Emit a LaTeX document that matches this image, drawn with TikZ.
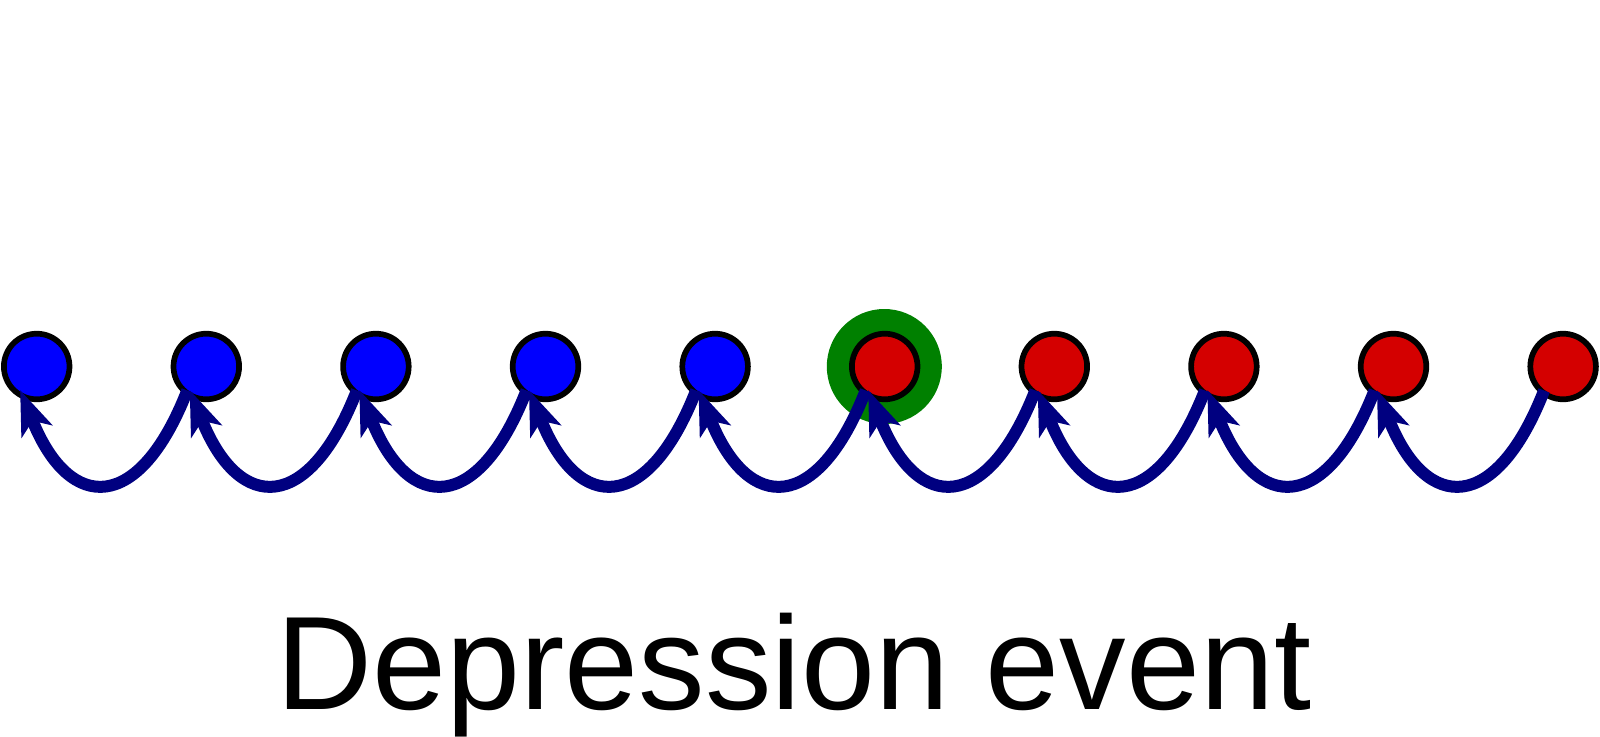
\documentclass[tikz,border=0pt]{standalone}
\usepackage{fontspec}
\setmainfont{Liberation Sans}
\usetikzlibrary{arrows.meta}
\definecolor{nblue}{RGB}{0,0,255}
\definecolor{nred}{RGB}{212,0,0}
\definecolor{ngreen}{RGB}{0,128,0}
\definecolor{navy}{RGB}{0,0,128}
\tikzset{
  state/.style={circle, draw=black, line width=5.7pt, minimum size=65.6pt, inner sep=0pt},
  bluestate/.style={state, fill=nblue},
  redstate/.style={state, fill=nred},
  link/.style={draw=navy, line width=12pt, -{Stealth[length=45pt, width=34pt, inset=12pt, line width=0pt]}},
  label/.style={font=\fontsize{133}{160}\selectfont, anchor=base, inner sep=0pt}
}
\begin{document}
\begin{tikzpicture}[x=1pt,y=-1pt]
\useasboundingbox (0,0) rectangle (1600,736);
\fill[ngreen] (884.3,366.5) circle (57.5pt);
\foreach \i in {1,...,5} {
  \node[bluestate] (n\i) at ({36.7+169.6*(\i-1)},366.5) {};
}
\foreach \i in {6,...,10} {
  \node[redstate] (n\i) at ({36.7+169.6*(\i-1)},366.5) {};
}
\foreach \i in {1,...,10} {
  \coordinate (e\i) at ([shift={(-16.5,23.8)}]n\i.center);
  \coordinate (s\i) at ([shift={(-19,24)}]n\i.center);
}
\foreach \i [evaluate=\i as \j using int(\i+1)] in {1,...,9} {
  \draw[link] (s\j) .. controls +(-48,123) and +(50,123) .. (e\i);
}
\node[label] (title) at (794,709) {Depression event};
\end{tikzpicture}
\end{document}
